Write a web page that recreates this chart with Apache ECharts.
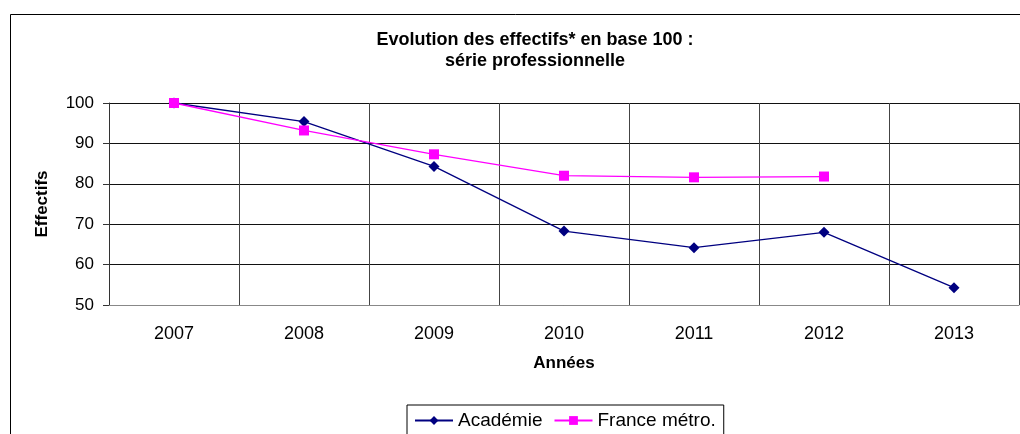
<!DOCTYPE html>
<html><head><meta charset="utf-8">
<script src="https://cdn.jsdelivr.net/npm/echarts@6/dist/echarts.min.js"></script>
<style>html,body{margin:0;padding:0;background:#fff}#c{width:1020px;height:434px}</style>
</head><body><div id="c"></div>
<script>
const categories = ['2007','2008','2009','2010','2011','2012','2013'];
const academie = [100, 95.4, 84.3, 68.3, 64.2, 68.0, 54.3];
const france = [100, 93.2, 87.3, 82.0, 81.6, 81.8, null];
const titleText = 'Evolution des effectifs* en base 100 :\nsérie professionnelle';
const font = '"Liberation Sans", Arial, sans-serif';

const chart = echarts.init(document.getElementById('c'));
chart.setOption({
  animation: false,
  backgroundColor: '#fff',
  textStyle: { fontFamily: font },
  graphic: [{
    type: 'rect', left: 8, top: 12, silent: true, z: -1,
    shape: { width: 1200, height: 600 },
    style: { fill: 'none', stroke: '#000', lineWidth: 1 }
  }],
  title: {
    text: titleText, left: 530, top: 25, textAlign: 'center',
    textStyle: { fontFamily: font, fontSize: 18, fontWeight: 'bold', color: '#000', lineHeight: 21 }
  },
  legend: {
    left: 407, top: 405, orient: 'horizontal',
    padding: [6, 8, 6, 7], borderColor: '#000', borderWidth: 1,
    itemWidth: 38, itemHeight: 11, itemGap: 11,
    textStyle: { fontFamily: font, fontSize: 19, color: '#000' },
    data: ['Académie', 'France métro.']
  },
  grid: { left: 109, right: 1, top: 103, bottom: 129, containLabel: false },
  xAxis: {
    type: 'category', data: categories, boundaryGap: true,
    name: 'Années', nameLocation: 'middle', nameGap: 50,
    nameTextStyle: { fontFamily: font, fontSize: 17, fontWeight: 'bold', color: '#000' },
    axisLine: { lineStyle: { color: '#888', width: 1 } },
    axisTick: { show: false },
    axisLabel: { fontFamily: font, fontSize: 18, color: '#000', margin: 20 },
    splitLine: { show: true, lineStyle: { color: '#444', width: 1 } }
  },
  yAxis: {
    type: 'value', min: 50, max: 100, interval: 10,
    name: 'Effectifs', nameLocation: 'middle', nameGap: 58, nameRotate: 90,
    nameTextStyle: { fontFamily: font, fontSize: 17, fontWeight: 'bold', color: '#000' },
    axisLine: { show: true, lineStyle: { color: '#333', width: 1 } },
    axisTick: { show: true, length: 6, lineStyle: { color: '#333' } },
    axisLabel: { fontFamily: font, fontSize: 17, color: '#000', margin: 15 },
    splitLine: { show: true, lineStyle: { color: '#111', width: 1 } }
  },
  series: [
    {
      name: 'Académie', type: 'line', data: academie,
      symbol: 'diamond', symbolSize: 11,
      lineStyle: { color: '#000080', width: 1.3 },
      itemStyle: { color: '#000080' }
    },
    {
      name: 'France métro.', type: 'line', data: france,
      symbol: 'rect', symbolSize: 10, connectNulls: false,
      lineStyle: { color: '#FF00FF', width: 1.3 },
      itemStyle: { color: '#FF00FF' }
    }
  ]
});
</script></body></html>
